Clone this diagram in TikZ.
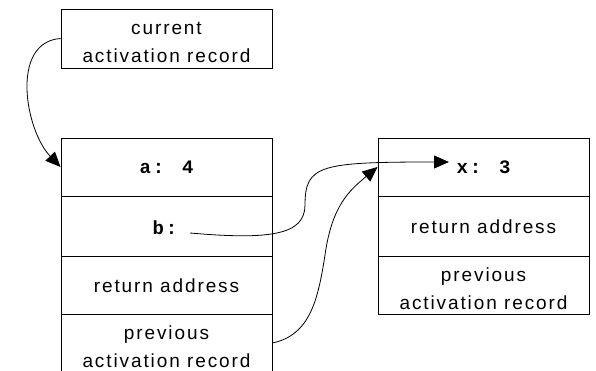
\documentclass[tikz,border=0pt]{standalone}
\usepackage{fontspec}
\setmainfont{Liberation Sans}[LetterSpace=10]
\newfontfamily\cmono{Liberation Mono}[LetterSpace=10]
\usetikzlibrary{arrows.meta}
\begin{document}
\begin{tikzpicture}[x=1pt,y=-1pt,
  cell/.style={draw, line width=0.9pt, minimum width=211pt, inner sep=0pt},
  txt/.style={inner sep=0pt, align=center, font=\fontsize{19}{28}\selectfont},
  conn/.style={line width=0.8pt, -{Triangle[length=15pt,width=13pt]}},
  mono/.style={inner sep=0pt, font=\fontsize{19}{28}\selectfont\cmono\bfseries}]
\useasboundingbox (0,0) rectangle (596,371);
\clip (0,0) rectangle (596,371);
% current activation record box
\node[cell, minimum height=59pt] (cur) at (166.5,38.5) {};
\node[txt] (curtext) at (166.5,42.5) {current\\activation record};
% left stack
\node[cell, minimum height=58pt] (la) at (166.5,167) {};
\node[mono] (atext) at (166.5,167) {a: 4};
\node[cell, minimum height=60pt] (lb) at (166.5,226) {};
\node[mono] (btext) at (165,228) {b:};
\node[cell, minimum height=58pt] (lret) at (166.5,285) {};
\node[txt] (lrettext) at (166.5,286) {return address};
\node[cell, minimum height=58pt] (lprev) at (166.5,343) {};
\node[txt] (lprevtext) at (166.5,347) {previous\\activation record};
% right stack
\node[cell, minimum height=58pt] (rx) at (483.5,167) {};
\node[mono] (xtext) at (483.5,167) {x: 3};
\node[cell, minimum height=60pt] (rret) at (483.5,226) {};
\node[txt] (rrettext) at (483.5,227) {return address};
\node[cell, minimum height=58pt] (rprev) at (483.5,285) {};
\node[txt] (rprevtext) at (483.5,289) {previous\\activation record};
% connectors
\coordinate (bptr) at (190,233);
\coordinate (xptr) at (449,162);
\draw[conn] (cur.west) .. controls (10,42) and (25,130) .. (la.west);
\draw[conn] (bptr) .. controls (270,240) and (305,235) .. (305,205)
  .. controls (305,165) and (320,162) .. (xptr);
\draw[conn] (lprev.east) .. controls (310,335) and (318,300) .. (325,255)
  .. controls (332,205) and (350,190) .. (rx.west);
\end{tikzpicture}
\end{document}
